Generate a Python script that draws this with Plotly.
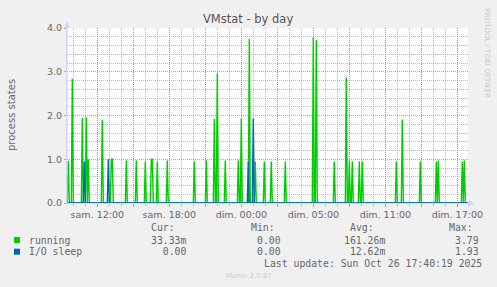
import plotly.graph_objects as go

# ---------------- data ----------------
# spike times: minutes after Saturday 00:00 (local, before DST change), 5-minute samples
running_minutes = [575, 595, 645, 665, 675, 745, 790, 795, 865, 915, 960, 990, 995,
                   1020, 1070, 1205, 1265, 1305, 1320, 1360, 1425, 1440, 1480, 1510,
                   1555, 1590, 1660, 1800, 1815, 1905, 1965, 1980, 1995, 2030, 2045,
                   2215, 2245, 2335, 2415, 2425, 2545, 2555]
running_values = [0.96, 2.84, 1.94, 1.96, 1.00, 1.90, 1.00, 1.00, 0.97, 0.97, 0.95, 1.00, 1.00,
                  0.95, 0.97, 0.95, 0.97, 1.92, 2.96, 0.97, 0.97, 1.93, 3.75, 0.95,
                  0.95, 0.95, 0.95, 3.79, 3.73, 0.95, 2.87, 0.95, 0.95, 0.95, 0.95,
                  0.95, 1.91, 0.95, 0.95, 0.97, 0.95, 0.97]
io_minutes = [655, 775, 1475, 1500]
io_values = [0.95, 1.00, 0.95, 1.93]

sample_start, sample_end, step = 565, 2575, 5  # minutes

tick_hours = [12, 15, 18, 21, 24, 27, 30, 33, 36, 39, 42]
tick_labels = ["sam. 12:00", "", "sam. 18:00", "", "dim. 00:00", "",
               "dim. 05:00", "", "dim. 11:00", "", "dim. 17:00"]

legend_rows = [
    ("running", "#00cc00", "33.33m", "0.00", "161.26m", "3.79"),
    ("I/O sleep", "#0066b3", "0.00", "0.00", "12.62m", "1.93"),
]

# ---------------- build series ----------------
def series(mins, vals):
    d = dict(zip(mins, vals))
    xs, ys = [], []
    for m in range(sample_start, sample_end + 1, step):
        xs.append(m / 60.0)
        ys.append(d.get(m, 0.0))
    return xs, ys

rx, ry = series(running_minutes, running_values)
ix, iy = series(io_minutes, io_values)

W, H = 497, 287
L, R, T, B = 67, 29, 28, 84
pw, ph = W - L - R, H - T - B
x0 = 12 - (97.3 - L) / 12.0
x1 = x0 + pw / 12.0

def fx(x):
    return (x - L) / pw

def fy(y):
    return (H - B - y) / ph

FONT = "DejaVu Sans"
MONO = "DejaVu Sans Mono"
TXT = "#666666"

fig = go.Figure()
fig.add_trace(go.Scatter(x=rx, y=ry, mode="lines", line=dict(color="#00cc00", width=1.4),
                         hoverinfo="skip", showlegend=False))
fig.add_trace(go.Scatter(x=ix, y=iy, mode="lines", line=dict(color="#0066b3", width=1.4),
                         hoverinfo="skip", showlegend=False))

grid_major = "rgba(215,100,100,0.7)"
grid_minor = "rgba(140,140,140,0.6)"
DOT = "1px,1px"

fig.update_xaxes(
    range=[x0, x1], tickmode="array", tickvals=tick_hours, ticktext=tick_labels,
    showgrid=True, gridcolor=grid_major, griddash=DOT, gridwidth=1,
    ticks="outside", ticklen=3, tickcolor="rgba(224,120,120,0.8)",
    tickfont=dict(family=FONT, size=9.5, color=TXT),
    showline=True, linecolor="#CFD6F8", linewidth=1, zeroline=False,
    minor=dict(dtick=1, tick0=0, showgrid=True, gridcolor=grid_minor, griddash=DOT,
               ticks="outside", ticklen=2, tickcolor="rgba(150,150,150,0.6)"),
    fixedrange=True,
)
fig.update_yaxes(
    range=[0, 4], tickmode="linear", tick0=0, dtick=1, tickformat=".1f",
    showgrid=True, gridcolor=grid_major, griddash=DOT, gridwidth=1,
    ticks="outside", ticklen=2, tickcolor="rgba(224,120,120,0.8)",
    tickfont=dict(family=FONT, size=9.5, color=TXT),
    showline=True, linecolor="#CFD6F8", linewidth=1, zeroline=False,
    minor=dict(dtick=0.2, tick0=0, showgrid=True, gridcolor=grid_minor, griddash=DOT),
    fixedrange=True,
)

ann = []
ann.append(dict(text="VMstat - by day", x=fx(248), y=fy(19), xanchor="center", yanchor="middle",
                font=dict(family=FONT, size=11.5, color="#555555")))
ann.append(dict(text="process states", x=fx(11), y=fy(115), textangle=-90, xanchor="center",
                yanchor="middle", font=dict(family=FONT, size=10, color=TXT)))
ann.append(dict(text="RRDTOOL / TOBI OETIKER", x=fx(487), y=fy(53), textangle=90, xanchor="center",
                yanchor="middle", font=dict(family=FONT, size=7, color="#c8c8c8")))

def mono(text, x, y):
    ann.append(dict(text=text, x=fx(x), y=fy(y), xanchor="left", yanchor="middle",
                    font=dict(family=MONO, size=9.8, color=TXT)))

mono("Cur:", 149, 227.3)
mono("Min:", 249, 227.3)
mono("Avg:", 348.3, 227.3)
mono("Max:", 446.7, 227.3)

shapes = []
row_y = [240, 251.7]
for (name, col, cur, mn, avg, mx), yy in zip(legend_rows, row_y):
    mono(name, 26.7, yy)
    mono(cur.rjust(6), 149.3, yy)
    mono(mn, 255, yy)
    mono(avg.rjust(7), 341.7, yy)
    mono(mx, 453.3, yy)
    shapes.append(dict(type="rect", xref="paper", yref="paper", x0=fx(14), x1=fx(20),
                       y0=fy(yy + 3), y1=fy(yy - 3), fillcolor=col, line=dict(width=0)))

mono("Last update: Sun Oct 26 17:40:19 2025", 261.7, 263.3)
ann.append(dict(text="Munin 2.0.67", x=fx(249), y=fy(276), xanchor="center", yanchor="middle",
                font=dict(family=FONT, size=7, color="#cccccc")))

for a in ann:
    a.update(xref="paper", yref="paper", showarrow=False)

# axis arrows
arrow = "#CFD6F8"
shapes.append(dict(type="path", xref="paper", yref="paper",
                   path=f"M {fx(64)} {fy(28)} L {fx(70)} {fy(28)} L {fx(67)} {fy(21)} Z",
                   fillcolor=arrow, line=dict(width=0)))
shapes.append(dict(type="line", xref="paper", yref="paper", x0=fx(67), x1=fx(67),
                   y0=fy(203.3), y1=fy(24), line=dict(color=arrow, width=1)))
shapes.append(dict(type="path", xref="paper", yref="paper",
                   path=f"M {fx(468)} {fy(200)} L {fx(468)} {fy(206.5)} L {fx(475)} {fy(203.3)} Z",
                   fillcolor=arrow, line=dict(width=0)))

fig.update_layout(
    width=W, height=H, margin=dict(l=L, r=R, t=T, b=B, pad=0),
    paper_bgcolor="#f0f0f0", plot_bgcolor="#ffffff",
    annotations=ann, shapes=shapes, showlegend=False,
)

fig.write_html("out.html")
